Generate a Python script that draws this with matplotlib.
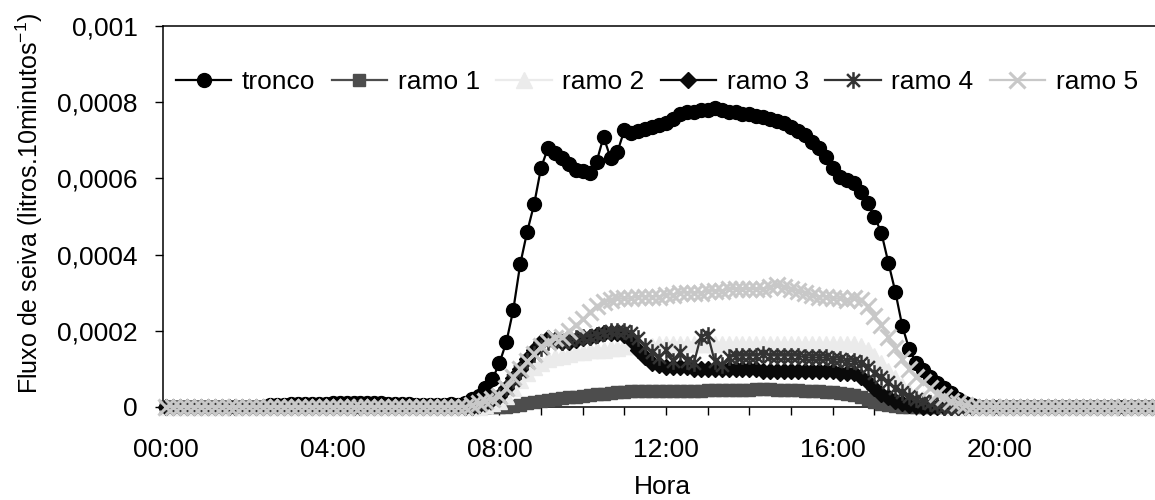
import numpy as np
import matplotlib.pyplot as plt
from matplotlib.path import Path

plt.rcParams['font.family'] = ['Liberation Sans', 'DejaVu Sans']

# horario a cada 10 minutos (em horas)
hora = np.arange(144) / 6.0

# valores em 1e-5 litros por 10 minutos, uma linha por hora (6 leituras)
tronco = [
    0, 0, 0, 0, 0, 0,
    0, 0, 0, 0, 0, 0,
    0, 0, 0, 0.5, 0.5, 0.5,
    0.8, 0.8, 0.8, 0.8, 0.8, 0.8,
    1, 1, 1, 1, 1, 1,
    1, 1, 0.8, 0.8, 0.8, 0.8,
    0.5, 0.5, 0.5, 0.5, 0.5, 0.8,
    0.5, 1, 2, 3, 5, 7.3,
    11.5, 17, 25.5, 37.5, 46, 53.2,
    62.8, 68, 66.7, 65.4, 63.8, 62.2,
    62, 61.4, 64.4, 70.9, 65.4, 67,
    72.7, 72, 72.5, 73, 73.5, 74,
    74.5, 75.5, 77, 77.5, 77.5, 78,
    78, 78.5, 78, 77.5, 77.5, 77,
    77, 76.5, 76, 75.5, 75, 74.5,
    73.5, 72.5, 71.5, 69.6, 68, 65.7,
    62.7, 60.4, 59.5, 58.8, 56.5, 53.5,
    50, 45.7, 37.9, 30.3, 21.3, 15.2,
    11.5, 9.7, 8, 6.3, 5, 3.7,
    2, 1, 0.5, 0, 0, 0,
    0, 0, 0, 0, 0, 0,
    0, 0, 0, 0, 0, 0,
    0, 0, 0, 0, 0, 0,
    0, 0, 0, 0, 0, 0,
]
ramo1 = [
    0, 0, 0, 0, 0, 0,
    0, 0, 0, 0, 0, 0,
    0, 0, 0, 0, 0, 0,
    0, 0, 0, 0, 0, 0,
    0, 0, 0, 0, 0, 0,
    0, 0, 0, 0, 0, 0,
    0, 0, 0, 0, 0, 0,
    0, 0, 0, 0, 0, 0,
    0, 0, 0.3, 0.6, 1, 1.3,
    1.6, 1.9, 2.1, 2.3, 2.5, 2.7,
    2.9, 3.1, 3.3, 3.5, 3.7, 3.9,
    4, 4.1, 4.1, 4.1, 4.2, 4.2,
    4.2, 4.2, 4.2, 4.3, 4.3, 4.3,
    4.4, 4.4, 4.4, 4.5, 4.5, 4.5,
    4.5, 4.6, 4.6, 4.6, 4.5, 4.5,
    4.4, 4.4, 4.3, 4.2, 4.1, 4,
    3.9, 3.7, 3.5, 3.1, 2.6, 2,
    1.4, 0.8, 0.4, 0.2, 0.1, 0,
    0, 0, 0, 0, 0, 0,
    0, 0, 0, 0, 0, 0,
    0, 0, 0, 0, 0, 0,
    0, 0, 0, 0, 0, 0,
    0, 0, 0, 0, 0, 0,
    0, 0, 0, 0, 0, 0,
]
ramo2 = [
    0, 0, 0, 0, 0, 0,
    0, 0, 0, 0, 0, 0,
    0, 0, 0, 0, 0, 0,
    0, 0, 0, 0, 0, 0,
    0, 0, 0, 0, 0, 0,
    0, 0, 0, 0, 0, 0,
    0, 0, 0, 0, 0, 0,
    0, 0, 0, 0, 0.5, 1,
    1.5, 3, 5, 7, 9, 10.5,
    11.5, 12.5, 13, 13.5, 14, 14.5,
    14.5, 15, 15, 15, 15.5, 15.5,
    16, 16, 16, 16, 16, 16.5,
    16.5, 16.5, 16.5, 16.5, 16.5, 16.5,
    16.5, 16.5, 16.5, 16.5, 16.5, 16.5,
    16.5, 16.5, 16.5, 16.5, 16.5, 16.5,
    16.5, 16.5, 16.5, 16.5, 16.5, 16.5,
    16.5, 16.5, 16.5, 16.5, 16, 15,
    13.5, 11.5, 9.5, 7.5, 5.5, 4,
    3, 2, 1.5, 1, 0.5, 0,
    0, 0, 0, 0, 0, 0,
    0, 0, 0, 0, 0, 0,
    0, 0, 0, 0, 0, 0,
    0, 0, 0, 0, 0, 0,
    0, 0, 0, 0, 0, 0,
]
ramo3 = [
    0, 0, 0, 0, 0, 0,
    0, 0, 0, 0, 0, 0,
    0, 0, 0, 0, 0, 0,
    0, 0, 0, 0, 0, 0,
    0, 0, 0, 0, 0, 0,
    0, 0, 0, 0, 0, 0,
    0, 0, 0, 0, 0, 0,
    0, 0, 0, 0.5, 1, 2,
    3, 5, 7.5, 10, 12.5, 15,
    17, 18, 17.5, 17, 17, 17.5,
    18, 18.5, 19, 19.5, 19.5, 19.5,
    19, 17.5, 15, 13, 11.5, 11,
    10.5, 10.5, 10.5, 10.5, 10, 10,
    10, 10, 10, 10, 10, 10,
    10, 10, 9.5, 9.5, 9.5, 9.5,
    9.5, 9.5, 9.5, 9.5, 9.5, 9.5,
    9.5, 9, 9, 9, 8, 6.5,
    5, 3.5, 2.5, 1.5, 1, 0.5,
    0.3, 0, 0, 0, 0, 0,
    0, 0, 0, 0, 0, 0,
    0, 0, 0, 0, 0, 0,
    0, 0, 0, 0, 0, 0,
    0, 0, 0, 0, 0, 0,
    0, 0, 0, 0, 0, 0,
]
ramo4 = [
    0, 0, 0, 0, 0, 0,
    0, 0, 0, 0, 0, 0,
    0, 0, 0, 0, 0, 0,
    0, 0, 0, 0, 0, 0,
    0, 0, 0, 0, 0, 0,
    0, 0, 0, 0, 0, 0,
    0, 0, 0, 0, 0, 0,
    0, 0, 0, 0.5, 1, 2,
    3, 5, 7, 9.5, 12, 14,
    15.5, 17, 17.5, 17, 17.5, 18,
    18.5, 18.5, 19, 19.5, 20, 20,
    20, 19.5, 18, 16, 14.5, 13,
    15, 12, 14.5, 12, 11.5, 18.5,
    19, 12, 11, 13, 13.5, 13.5,
    13.5, 13.5, 14, 13.5, 13.5, 13.5,
    13.5, 13.5, 13, 13, 13, 13,
    12.5, 12.5, 12, 12, 11.5, 10.5,
    9, 8, 6.5, 5, 4, 3,
    2, 1.5, 1, 0.5, 0, 0,
    0, 0, 0, 0, 0, 0,
    0, 0, 0, 0, 0, 0,
    0, 0, 0, 0, 0, 0,
    0, 0, 0, 0, 0, 0,
    0, 0, 0, 0, 0, 0,
]
ramo5 = [
    0, 0, 0, 0, 0, 0,
    0, 0, 0, 0, 0, 0,
    0, 0, 0, 0, 0, 0,
    0, 0, 0, 0, 0, 0,
    0, 0, 0, 0, 0, 0,
    0, 0, 0, 0, 0, 0,
    0, 0, 0, 0, 0, 0,
    0, 0, 0.5, 1, 1.5, 2,
    3, 5, 8, 10, 12, 14,
    16, 17, 18, 18.5, 20, 21.5,
    23, 25, 26.5, 27.5, 28, 28.5,
    28.5, 28.5, 29, 29, 29, 29,
    29.5, 29.5, 30, 30, 30, 30,
    30.5, 30.5, 30.5, 31, 31, 31,
    31, 31, 31, 31.5, 32, 31.5,
    31, 30.5, 30, 29.5, 29, 29,
    28.5, 28.5, 28, 28.5, 28, 26.5,
    24, 21.5, 18.5, 15.5, 12.5, 10,
    8, 6.5, 5, 3.5, 2.5, 1.5,
    1, 0.5, 0, 0, 0, 0,
    0, 0, 0, 0, 0, 0,
    0, 0, 0, 0, 0, 0,
    0, 0, 0, 0, 0, 0,
    0, 0, 0, 0, 0, 0,
]

xtick_pos = [0, 4, 8, 12, 16, 20]
xtick_labels = ['00:00', '04:00', '08:00', '12:00', '16:00', '20:00']
ytick_pos = [0, 0.0002, 0.0004, 0.0006, 0.0008, 0.001]
ytick_labels = ['0', '0,0002', '0,0004', '0,0006', '0,0008', '0,001']

# asterisco estilo Excel: x + barra vertical
asterisco = Path([(-1, -1), (1, 1), (-1, 1), (1, -1), (0, -1.3), (0, 1.3)],
                 [Path.MOVETO, Path.LINETO] * 3)

series = [
    ('tronco', tronco, dict(color='black', marker='o', ms=10)),
    ('ramo 1', ramo1, dict(color='#4d4d4d', marker='s', ms=9)),
    ('ramo 2', ramo2, dict(color='#ebebeb', marker='^', ms=11)),
    ('ramo 3', ramo3, dict(color='#0a0a0a', marker='D', ms=8.5)),
    ('ramo 4', ramo4, dict(color='#333333', marker=asterisco, ms=12, mew=1.8)),
    ('ramo 5', ramo5, dict(color='#c8c8c8', marker='x', ms=11.5, mew=2.2)),
]

fig = plt.figure(figsize=(11.55, 5), dpi=100)
ax = fig.add_axes([163 / 1155, 93 / 500, 999 / 1155, 381 / 500])

for z, (nome, valores, estilo) in enumerate(series):
    ax.plot(hora, np.array(valores) * 1e-5, label=nome, lw=1.6,
            zorder=2 + z, clip_on=False, **estilo)

ax.set_xlim(-0.072, 23.9)
ax.set_ylim(0, 0.001)
ax.set_xticks(xtick_pos)
ax.set_xticklabels(xtick_labels)
ax.set_xticks(np.arange(1, 24), minor=True)
ax.set_yticks(ytick_pos)
ax.set_yticklabels(ytick_labels)
ax.tick_params(axis='both', which='both', direction='out', length=6,
               width=1, labelsize=19, color='black')
ax.tick_params(axis='x', pad=16)
ax.tick_params(axis='y', pad=12)
ax.spines['right'].set_visible(False)
for s in ['left', 'bottom', 'top']:
    ax.spines[s].set_linewidth(1.1)

ax.set_xlabel('Hora', fontsize=19, labelpad=10)
ax.set_ylabel(r'Fluxo de seiva (litros.10minutos$^{\mathregular{-1}}$)', fontsize=18)
ax.yaxis.set_label_coords(-0.118, 0.535)

ax.legend(loc='center left', bbox_to_anchor=(0.013, 0.853), ncol=6,
          frameon=False, fontsize=19, borderpad=0, borderaxespad=0,
          handlelength=2.1, handletextpad=0.4, columnspacing=0.62,
          markerscale=1.0)

fig.savefig('out.png', dpi=100)
